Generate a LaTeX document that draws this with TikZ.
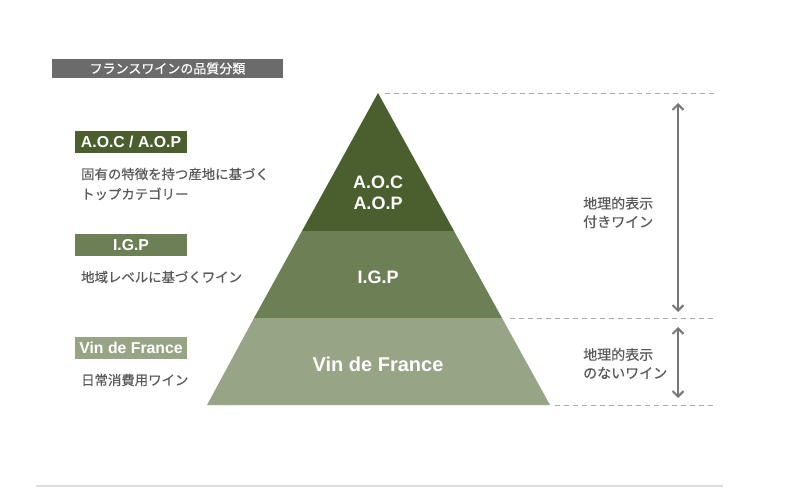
\documentclass[tikz,border=0pt]{standalone}
\usepackage{fontspec}
\setmainfont{Liberation Sans}
\newfontfamily\jp[FakeBold=0.5]{Noto Sans CJK JP}
\usetikzlibrary{arrows.meta}
\definecolor{gTop}{HTML}{4B5E2E}
\definecolor{gMid}{HTML}{6D7F55}
\definecolor{gBot}{HTML}{97A586}
\definecolor{txtgray}{HTML}{595959}
\definecolor{bargray}{HTML}{6B6B6B}
\definecolor{dashgray}{HTML}{AAAAAA}
\definecolor{arrgray}{HTML}{777777}
\begin{document}
\begin{tikzpicture}[x=1pt,y=-1pt,
  tierlabel/.style={text=white,font=\fontsize{18}{21}\selectfont\bfseries,align=center,inner sep=0pt},
  tagbox/.style={text=white,font=\fontsize{15.8}{17}\selectfont\bfseries,minimum width=112pt,minimum height=22pt,inner sep=0pt},
  desc/.style={text=txtgray,font=\jp\fontsize{13.4}{20}\selectfont,anchor=west,align=left,inner sep=0pt},
  rdesc/.style={text=txtgray,font=\jp\fontsize{14}{18.5}\selectfont,anchor=west,align=left,inner sep=0pt},
  guide/.style={draw=dashgray,line width=1pt,dash pattern=on 5pt off 4pt},
  span/.style={draw=arrgray,line width=2pt,{Straight Barb[length=5.5pt,width=11pt]}-{Straight Barb[length=5.5pt,width=11pt]}}
]
\useasboundingbox (0,0) rectangle (800,498);

% title bar
\node[fill=bargray,text=white,minimum width=231pt,minimum height=19pt,inner sep=0pt,
      font=\jp\fontsize{13}{15}\selectfont] (title) at (167.5,68.5) {フランスワインの品質分類};

% pyramid tiers
\fill[gTop] (378,93) -- (454,231) -- (302,231) -- cycle;
\fill[gMid] (302,231) -- (454,231) -- (502,318) -- (254,318) -- cycle;
\fill[gBot] (254,318) -- (502,318) -- (550,405) -- (207,405) -- cycle;

\node[tierlabel] (aoc) at (378,192.5) {A.O.C\\A.O.P};
\node[tierlabel] (igp) at (378,277) {I.G.P};
\node[tierlabel,font=\fontsize{20}{22}\selectfont\bfseries] (vdf) at (378,364) {Vin de France};

% left tags
\node[tagbox,fill=gTop] (tagaoc) at (131,142) {A.O.C / A.O.P};
\node[desc] (descaoc) at (81,184) {固有の特徴を持つ産地に基づく\\トップカテゴリー};
\node[tagbox,fill=gMid] (tagigp) at (131,245) {I.G.P};
\node[desc] (descigp) at (81,277) {地域レベルに基づくワイン};
\node[tagbox,fill=gBot] (tagvdf) at (131,348) {Vin de France};
\node[desc] (descvdf) at (81,380) {日常消費用ワイン};

% guides
\coordinate (g1a) at (385,93);  \coordinate (g1b) at (715,93);
\coordinate (g2a) at (510,318); \coordinate (g2b) at (715,318);
\coordinate (g3a) at (555,405); \coordinate (g3b) at (715,405);
\draw[guide] (g1a) -- (g1b);
\draw[guide] (g2a) -- (g2b);
\draw[guide] (g3a) -- (g3b);

% spans
\coordinate (a1t) at (678,103); \coordinate (a1b) at (678,312);
\coordinate (a2t) at (678,327); \coordinate (a2b) at (678,398);
\draw[span] (a1t) -- (a1b);
\draw[span] (a2t) -- (a2b);

\node[rdesc] (rgi) at (583,212.5) {地理的表示\\付きワイン};
\node[rdesc] (rnogi) at (583,363.5) {地理的表示\\のないワイン};

% bottom rule
\coordinate (b1) at (36,486); \coordinate (b2) at (723,486);
\draw[draw=black!13,line width=1.2pt] (b1) -- (b2);
\end{tikzpicture}
\end{document}
